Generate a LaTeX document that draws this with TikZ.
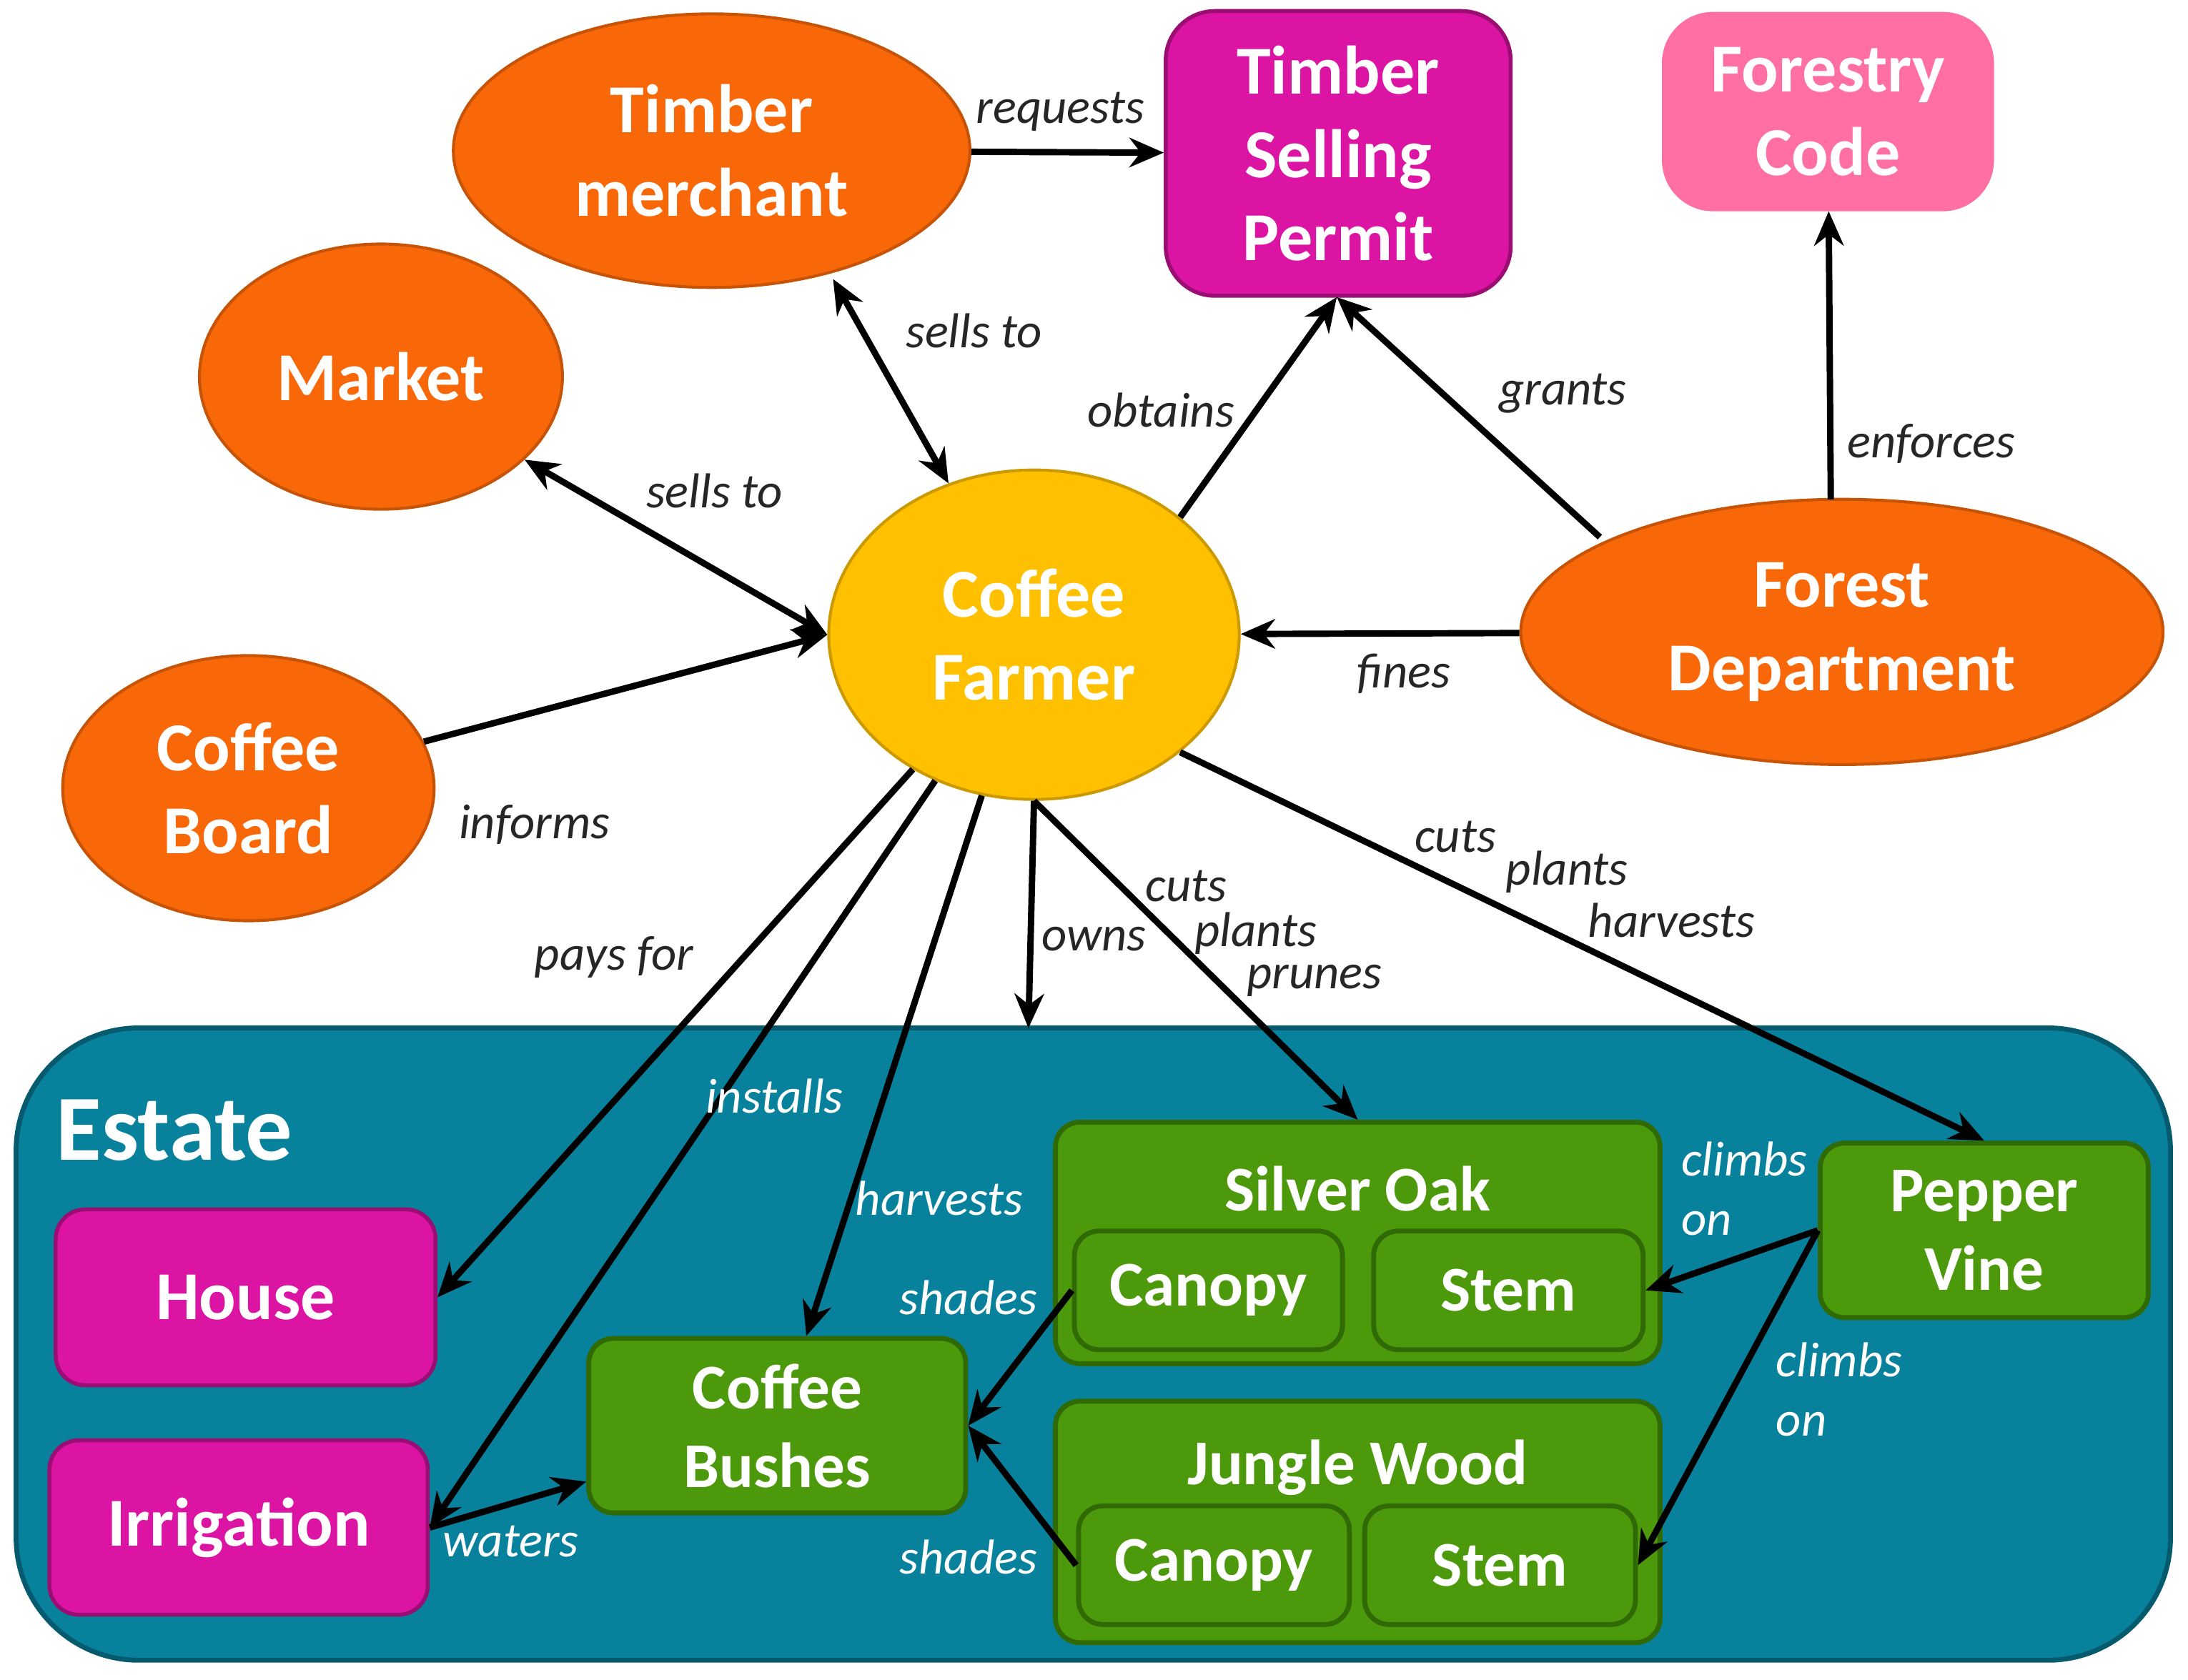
\documentclass[tikz,border=0pt]{standalone}
\usepackage{fontspec}
\setmainfont{Carlito}
\usetikzlibrary{shapes.geometric,arrows.meta}
\definecolor{org}{HTML}{F86808}
\definecolor{yel}{HTML}{FFC000}
\definecolor{mag}{HTML}{DC14A4}
\definecolor{pnk}{HTML}{FF6FA3}
\definecolor{teal}{HTML}{07819C}
\definecolor{grn}{HTML}{4C9A0C}
\definecolor{dgrn}{HTML}{2F6A05}
\tikzset{
 ell/.style={ellipse,fill=org,draw=org!80!black,line width=0.6pt,text=white,font=\bfseries\fontsize{14}{17}\selectfont,align=center,inner sep=0pt},
 box/.style={rectangle,rounded corners=6pt,fill=mag,draw=mag!70!black,line width=0.8pt,text=white,font=\bfseries\fontsize{14}{17}\selectfont,align=center},
 gbox/.style={rectangle,rounded corners=5pt,fill=grn,draw=dgrn,line width=1pt,text=white,font=\bfseries\fontsize{13}{16}\selectfont,align=center},
 gtitle/.style={text=white,font=\bfseries\fontsize{13}{16}\selectfont},
 lbl/.style={font=\itshape\fontsize{10}{12}\selectfont,text=black!85},
 wlbl/.style={font=\itshape\fontsize{10}{12}\selectfont,text=white},
 arr/.style={-{Stealth[length=7pt,width=6pt]},line width=1.3pt},
 darr/.style={{Stealth[length=7pt,width=6pt]}-{Stealth[length=7pt,width=6pt]},line width=1.3pt},
}
\begin{document}
\begin{tikzpicture}[x=0.01cm,y=-0.01cm]
\useasboundingbox (0,0) rectangle (1568,1204);
% estate
\node[rectangle,rounded corners=25pt,fill=teal,draw=teal!70!black,line width=1pt,minimum width=15.43cm,minimum height=4.53cm] (estate) at (783.5,963.5) {};
\node[text=white,font=\bfseries\fontsize{19}{21}\selectfont] (estl) at (125,810) {Estate};
% top nodes
\node[ell,minimum width=3.7cm,minimum height=1.96cm] (tm) at (510,108) {Timber\\merchant};
\node[ell,minimum width=2.6cm,minimum height=1.9cm] (mk) at (273,270) {Market};
\node[ell,minimum width=2.66cm,minimum height=1.9cm] (cb) at (178,565) {Coffee\\Board};
\node[ell,fill=yel,draw=yel!80!black,minimum width=2.94cm,minimum height=2.36cm] (cf) at (741,455) {Coffee\\Farmer};
\node[ell,minimum width=4.6cm,minimum height=1.9cm] (fd) at (1320,453) {Forest\\Department};
\node[box,minimum width=2.47cm,minimum height=2.04cm,rounded corners=10pt] (tsp) at (959,110) {Timber\\Selling\\Permit};
\node[box,fill=pnk,draw=pnk,minimum width=2.35cm,minimum height=1.4cm,rounded corners=10pt] (fc) at (1310,80) {Forestry\\Code};
% estate nodes
\node[box,minimum width=2.72cm,minimum height=1.26cm] (house) at (176,930) {House};
\node[box,minimum width=2.71cm,minimum height=1.25cm] (irr) at (171,1095) {Irrigation};
\node[gbox,minimum width=2.7cm,minimum height=1.25cm] (bush) at (557,1022) {Coffee\\Bushes};
\node[gbox,minimum width=4.33cm,minimum height=1.73cm] (so) at (973,891) {};
\node[gtitle] (sot) at (973,852) {Silver Oak};
\node[gbox,minimum width=1.92cm,minimum height=0.85cm] (soc) at (866,925) {Canopy};
\node[gbox,minimum width=1.93cm,minimum height=0.85cm] (sos) at (1081,925) {Stem};
\node[gbox,minimum width=4.33cm,minimum height=1.73cm] (jw) at (973,1091) {};
\node[gtitle] (jwt) at (973,1052) {Jungle Wood};
\node[gbox,minimum width=1.94cm,minimum height=0.85cm] (jwc) at (870,1122) {Canopy};
\node[gbox,minimum width=1.94cm,minimum height=0.85cm] (jws) at (1075,1122) {Stem};
\node[gbox,minimum width=2.35cm,minimum height=1.25cm] (pv) at (1422,882) {Pepper\\Vine};
\coordinate (own) at (737,737);
\coordinate (tspb) at (958,213);
\coordinate (tmb) at (597,200);
\coordinate (fdt) at (1312,358);
% edges
\draw[arr] (tm) -- (tsp);
\node[lbl] (l1) at (760,80) {requests};
\draw[darr] (tmb) -- (cf);
\node[lbl] (l2) at (698,237) {sells to};
\draw[darr] (mk) -- (cf.west);
\node[lbl] (l3) at (512,352) {sells to};
\draw[arr] (cb) -- (cf.west);
\node[lbl] (l4) at (383,591) {informs};
\draw[arr] (cf.north east) -- (tspb);
\node[lbl] (l5) at (832,294) {obtains};
\draw[arr] (fd.north west) ++(-10,0) -- (tspb);
\node[lbl] (l6) at (1120,282) {grants};
\draw[arr] (fdt) -- (fc);
\node[lbl] (l7) at (1384,318) {enforces};
\draw[arr] (fd) -- (cf);
\node[lbl] (l8) at (1006,483) {fines};
\draw[arr] (cf) -- (house.east);
\node[lbl] (l9) at (440,686) {pays for};
\draw[arr] (cf) -- (irr.east);
\node[wlbl] (l10) at (555,786) {installs};
\draw[arr] (irr.east) -- (bush);
\node[wlbl] (l11) at (366,1105) {waters};
\draw[arr] (cf) -- (bush);
\node[wlbl] (l12) at (673,859) {harvests};
\draw[arr] (cf.south) -- (own);
\node[lbl] (l13) at (784,673) {owns};
\draw[arr] (cf.south) -- (so.north);
\node[lbl] (l14) at (850,635) {cuts};
\node[lbl] (l15) at (900,669) {plants};
\node[lbl] (l16) at (942,703) {prunes};
\draw[arr] (cf.south east) -- (pv.north);
\node[lbl] (l17) at (1043,600) {cuts};
\node[lbl] (l18) at (1123,625) {plants};
\node[lbl] (l19) at (1198,660) {harvests};
\draw[arr] (soc.west) -- (bush.east);
\node[wlbl] (l20) at (694,930) {shades};
\draw[arr] (jwc.west) -- (bush.east);
\node[wlbl] (l21) at (694,1116) {shades};
\draw[arr] (pv.west) -- (sos.east);
\node[wlbl,align=left] (l22) at (1250,852) {climbs\\on};
\draw[arr] (pv.west) -- (jws.east);
\node[wlbl,align=left] (l23) at (1318,996) {climbs\\on};
\end{tikzpicture}
\end{document}
